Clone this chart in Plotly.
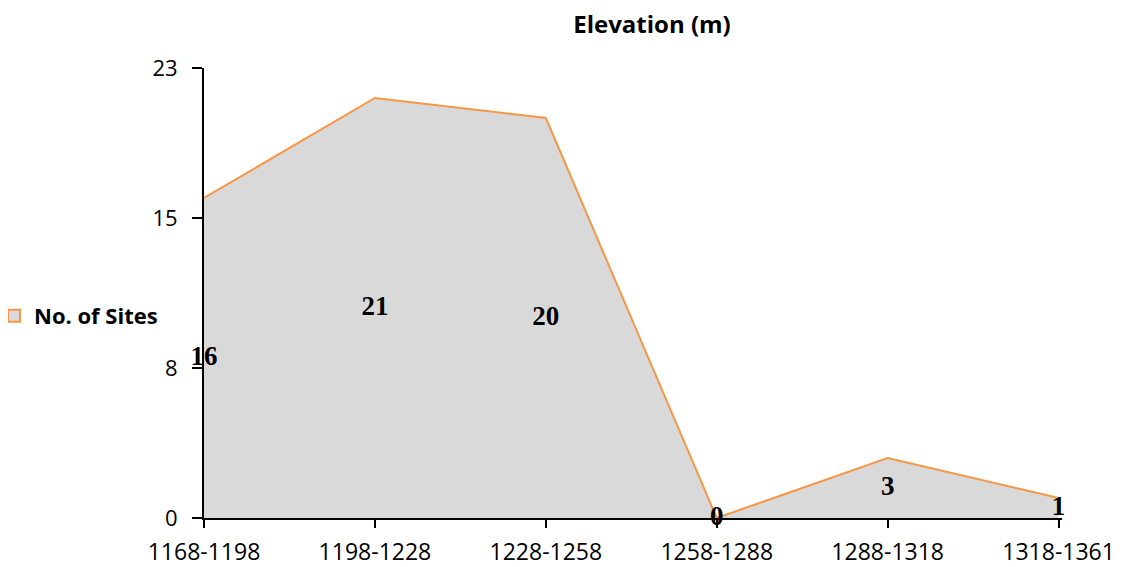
import plotly.graph_objects as go

categories = ["1168-1198", "1198-1228", "1228-1258", "1258-1288", "1288-1318", "1318-1361"]
sites = [16, 21, 20, 0, 3, 1]
y_tickvals = [0, 7.5, 15, 22.5]
y_ticktext = ["0", "8", "15", "23"]

xs = list(range(len(categories)))

fig = go.Figure()
fig.add_trace(go.Scatter(
    x=xs, y=sites, mode="lines", fill="tozeroy",
    fillcolor="#D9D9D9", line=dict(color="#F79646", width=2),
    showlegend=False, hoverinfo="skip",
))
fig.add_trace(go.Scatter(
    x=xs, y=[v / 2 for v in sites], mode="text",
    text=[str(v) for v in sites], textposition="middle center",
    textfont=dict(family="Liberation Serif", size=27, color="black", weight="bold"),
    showlegend=False, hoverinfo="skip", cliponaxis=False,
))
fig.add_trace(go.Scatter(
    x=[None], y=[None], mode="markers", name="No. of Sites",
    marker=dict(symbol="square", size=16, color="#D9D9D9",
                line=dict(color="#F79646", width=2)),
))

fig.update_layout(
    width=1123, height=567,
    paper_bgcolor="white", plot_bgcolor="white",
    margin=dict(l=196, r=69, t=60, b=57, autoexpand=False),
    title=dict(text="<b>Elevation (m)</b>", x=644 / 1123, xanchor="center",
               y=1 - 17 / 567, yanchor="middle",
               font=dict(family="Open Sans", size=24, color="black")),
    font=dict(family="Open Sans", color="black"),
    legend=dict(x=(-14 - 196) / 858, xanchor="left",
                y=(518 - 316) / 450, yanchor="middle",
                font=dict(family="Open Sans", size=22, color="black", weight="bold"),
                bgcolor="rgba(0,0,0,0)", itemsizing="constant", itemwidth=30),
    showlegend=True,
)
fig.update_xaxes(
    range=[0, 5.02], tickvals=xs, ticktext=categories,
    showline=True, linecolor="black", linewidth=2,
    ticks="outside", ticklen=8, tickwidth=2, tickcolor="black",
    showgrid=False, zeroline=False, ticklabelstandoff=4,
    tickfont=dict(family="Open Sans", size=23, color="black"),
)
fig.update_yaxes(
    range=[0, 22.5], tickvals=y_tickvals, ticktext=y_ticktext,
    showline=True, linecolor="black", linewidth=2,
    ticks="outside", ticklen=10, tickwidth=2, tickcolor="black",
    showgrid=False, zeroline=False, ticklabelstandoff=10,
    tickfont=dict(family="Open Sans", size=22, color="black"),
)

fig.write_html("out.html")
